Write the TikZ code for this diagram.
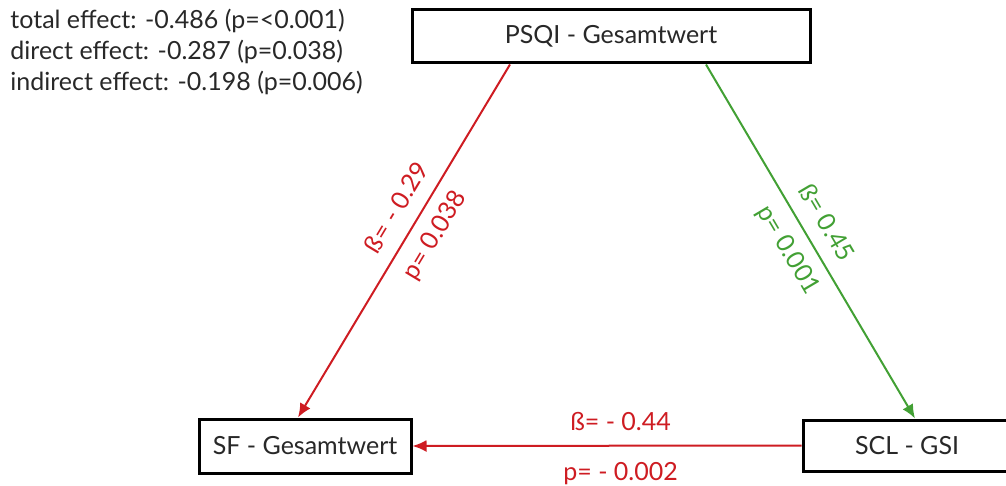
\documentclass[tikz,border=0pt]{standalone}
\usepackage{fontspec}
\setmainfont{Lato}
\usepackage{xcolor}
\usepackage{tikz}
\usetikzlibrary{arrows.meta,calc,positioning}
\definecolor{negpath}{RGB}{206,28,34}
\definecolor{pospath}{RGB}{66,160,52}
\definecolor{boxtext}{RGB}{40,40,40}
\tikzset{
  varbox/.style={rectangle,draw=black,line width=1.5pt,fill=white,
    font=\fontsize{12.5}{15}\selectfont,text=boxtext,inner sep=0pt},
  negarc/.style={-{Latex[length=7pt,width=6pt]},line width=1pt,negpath},
  posarc/.style={-{Latex[length=7pt,width=6pt]},line width=1pt,pospath},
  coeflabel/.style={font=\fontsize{12.5}{15}\selectfont,inner sep=0pt}
}

\begin{document}
\begin{tikzpicture}[x=0.5pt,y=-0.5pt]
  \useasboundingbox (0,0) rectangle (1006,486);
  \node[varbox,minimum width=199pt,minimum height=26.5pt] (psqi) at (611,36.5) {PSQI - Gesamtwert};
  \node[varbox,minimum width=106pt,minimum height=27pt] (sf) at (305,446) {SF - Gesamtwert};
  \node[varbox,minimum width=104pt,minimum height=25.5pt] (scl) at (907,445.5) {SCL - GSI};

  \node[anchor=west,align=left,text=boxtext,inner sep=0pt,
    font=\fontsize{12.5}{15.5}\selectfont] (effects) at (10,52)
    {total effect: -0.486 (p=<0.001)\\direct effect: -0.287 (p=0.038)\\indirect effect: -0.198 (p=0.006)};

  \draw[negarc] (psqi.south -| 510,0) -- (sf.north -| 298,0)
    node[coeflabel,pos=0.44,sloped,above=7pt,negpath] {ß= - 0.29}
    node[coeflabel,pos=0.45,sloped,below=6pt,negpath] {p= 0.038};
  \draw[posarc] (psqi.south -| 706,0) -- (scl.north -| 915,0)
    node[coeflabel,pos=0.48,sloped,above=7pt,pospath] {ß= 0.45}
    node[coeflabel,pos=0.49,sloped,below=6pt,pospath] {p= 0.001};
  \draw[negarc] (scl.west) -- (sf.east)
    node[coeflabel,pos=0.465,above=7pt,negpath] {ß= - 0.44}
    node[coeflabel,pos=0.465,below=8pt,negpath] {p= - 0.002};
\end{tikzpicture}
\end{document}
